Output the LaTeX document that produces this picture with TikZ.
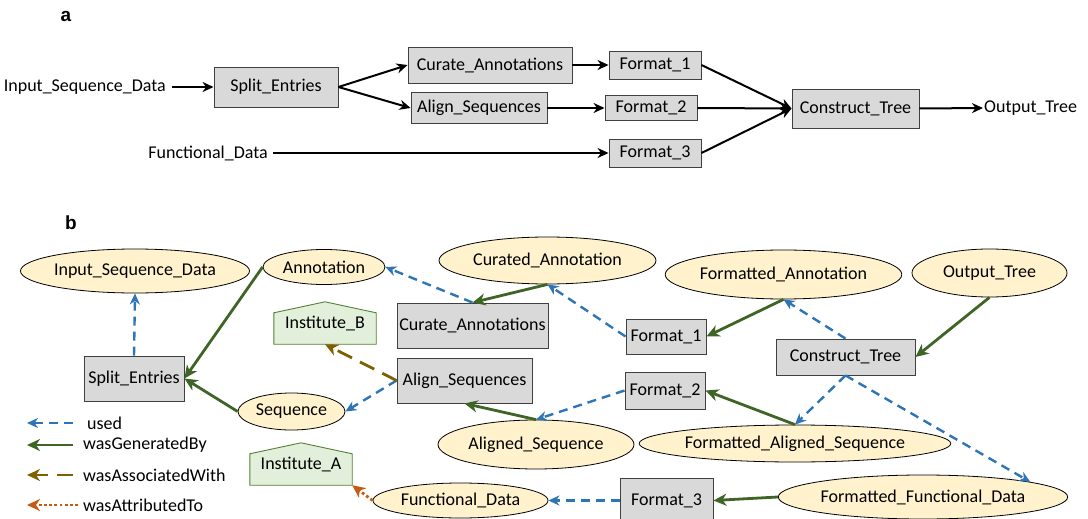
\documentclass[tikz,border=0pt]{standalone}
\usepackage{fontspec}
\setmainfont{Carlito}
\newfontfamily\labfont{Liberation Sans}
\usetikzlibrary{arrows.meta,shapes.geometric,calc,backgrounds}
\definecolor{usedc}{HTML}{2E75B6}
\definecolor{genc}{HTML}{3F6526}
\definecolor{assocc}{HTML}{7F6000}
\definecolor{attrc}{HTML}{C55A11}
\definecolor{ellfill}{HTML}{FFF2CC}
\definecolor{boxfill}{HTML}{D9D9D9}
\definecolor{boxline}{HTML}{404040}
\definecolor{housefill}{HTML}{E2EFDA}
\definecolor{houseline}{HTML}{538135}
\begin{document}
\begin{tikzpicture}[x=1pt,y=-1pt,
  font=\fontsize{18}{21}\selectfont,
  box/.style={rectangle, draw=boxline, fill=boxfill, line width=0.9pt, inner sep=0pt},
  ell/.style={ellipse, draw=black, fill=ellfill, line width=0.8pt, inner sep=0pt},
  plain/.style={inner sep=0pt},
  house/.style={inner sep=0pt, minimum width=102pt, minimum height=42pt},
  tipa/.style={-{Stealth[length=11pt,width=10pt,inset=3.5pt]}},
  aarr/.style={tipa, line width=2pt, black},
  used/.style={-{Stealth[length=11pt,width=10pt,inset=3.5pt]}, usedc, line width=2.4pt, dash pattern=on 9pt off 6pt},
  gen/.style={-{Stealth[length=13pt,width=12pt,inset=4pt]}, genc, line width=2.8pt},
  assoc/.style={-{Stealth[length=13pt,width=12pt,inset=4pt]}, assocc, line width=2.8pt, dash pattern=on 16pt off 9pt},
  attr/.style={-{Stealth[length=13pt,width=12pt,inset=4pt]}, attrc, line width=2.8pt, dash pattern=on 2.8pt off 2.4pt},
  panel/.style={font=\labfont\bfseries\fontsize{19}{22}\selectfont, inner sep=0pt}
]
\useasboundingbox (0,0) rectangle (1088,519);

% ---------------- panel a ----------------
\node[panel] (labA) at (66,16) {a};
\node[plain, anchor=east] (inA) at (166,87) {Input\_Sequence\_Data};
\node[box, minimum width=124pt, minimum height=40pt] (splitA) at (276,87) {Split\_Entries};
\node[plain, anchor=east] (funcA) at (268,153) {Functional\_Data};
\node[box, minimum width=164pt, minimum height=36pt] (curA) at (490,65) {Curate\_Annotations};
\node[box, minimum width=92pt, minimum height=28pt] (fmt1A) at (655,65) {Format\_1};
\node[box, minimum width=136pt, minimum height=31pt] (alignA) at (479,108) {Align\_Sequences};
\node[box, minimum width=92pt, minimum height=25pt] (fmt2A) at (651,108) {Format\_2};
\node[box, minimum width=92pt, minimum height=28pt] (fmt3A) at (655,153) {Format\_3};
\node[box, minimum width=127pt, minimum height=39pt] (consA) at (855.5,108.5) {Construct\_Tree};
\node[plain, anchor=west] (outA) at (984,108) {Output\_Tree};

\draw[aarr, shorten <=6pt] (inA.east) -- (splitA.west);
\draw[aarr] (splitA.east) -- (curA.west);
\draw[aarr] (splitA.east) -- (alignA.west);
\draw[aarr] (curA.east) -- (fmt1A.west);
\draw[aarr] (alignA.east) -- (fmt2A.west);
\draw[aarr, shorten <=5pt] (funcA.east) -- (fmt3A.west);
\draw[aarr] (fmt1A.east) -- (consA.west);
\draw[aarr] (fmt2A.east) -- (consA.west);
\draw[aarr] (fmt3A.east) -- (consA.west);
\draw[aarr, shorten >=1pt] (consA.east) -- (outA.west);

% ---------------- panel b ----------------
\node[panel] (labB) at (71,223) {b};
\node[ell, minimum width=224pt, minimum height=44pt] (isd) at (135,271) {Input\_Sequence\_Data};
\node[ell, minimum width=122pt, minimum height=35pt] (ann) at (324,267) {Annotation};
\node[house] (instB) at (325,323) {Institute\_B};
\node[box, minimum width=100pt, minimum height=45pt] (splitB) at (134,378.5) {Split\_Entries};
\node[ell, minimum width=107pt, minimum height=37pt] (seq) at (291.5,411.5) {Sequence};
\node[ell, minimum width=217pt, minimum height=47pt] (cura) at (547.5,260.5) {Curated\_Annotation};
\node[box, minimum width=151pt, minimum height=45pt] (curB) at (472.5,325.5) {Curate\_Annotations};
\node[box, minimum width=135pt, minimum height=45pt] (alignB) at (464.5,380.5) {Align\_Sequences};
\node[box, minimum width=80pt, minimum height=35pt] (fmt1B) at (666,336.5) {Format\_1};
\node[box, minimum width=80pt, minimum height=37pt] (fmt2B) at (665,390.5) {Format\_2};
\node[ell, minimum width=231pt, minimum height=49pt] (fann) at (783.5,274.5) {Formatted\_Annotation};
\node[ell, minimum width=155pt, minimum height=48pt] (outT) at (989.5,273) {Output\_Tree};
\node[box, minimum width=139pt, minimum height=36pt] (consB) at (845.5,357) {Construct\_Tree};
\node[ell, minimum width=300pt, minimum height=37pt] (fas) at (795,443.5) {Formatted\_Aligned\_Sequence};
\node[ell, minimum width=196pt, minimum height=49pt] (als) at (536,444.5) {Aligned\_Sequence};
\node[ell, minimum width=175pt, minimum height=35pt] (fd) at (460.5,500.5) {Functional\_Data};
\node[box, minimum width=93pt, minimum height=44pt] (fmt3B) at (666.5,500.5) {Format\_3};
\node[ell, minimum width=288pt, minimum height=44pt] (ffd) at (923,497) {Formatted\_Functional\_Data};
\node[house] (instA) at (301,464) {Institute\_A};

\begin{scope}[on background layer]
  \foreach \h in {instB,instA}{
    \draw[fill=housefill, draw=houseline, line width=0.9pt]
      (\h.south west) -- (\h.south east) -- ($(\h.north east)+(0,11)$)
      -- (\h.north) -- ($(\h.north west)+(0,11)$) -- cycle;
  }
\end{scope}

\draw[used] (splitB.north) -- (isd.south);
\draw[gen] (ann.west) -- (splitB.east);
\draw[gen] (seq.west) -- (splitB.east);
\draw[used] (curB.north) -- (ann.east);
\draw[gen] (cura.south) -- (curB.north);
\draw[used] (fmt1B.west) -- (cura.south);
\draw[gen] (fann.south) -- (fmt1B.east);
\draw[used] (consB.north) -- (fann.south);
\draw[gen] (outT.south) -- (consB.east);
\draw[used] (consB.south) -- (fas.north);
\draw[used] (consB.south) -- (ffd.8);
\draw[gen] (fas.north) -- (fmt2B.east);
\draw[used] (fmt2B.west) -- (als.north);
\draw[gen] (als.north) -- (alignB.south);
\draw[used] (alignB.west) -- (seq.east);
\draw[assoc] (alignB.west) -- (instB.south);
\draw[used] (fmt3B.west) -- (fd.east);
\draw[gen] (ffd.west) -- (fmt3B.east);
\draw[attr] (fd.west) -- (instA.south east);

% legend
\coordinate (l1s) at (73,423); \coordinate (l1e) at (27,423);
\coordinate (l2s) at (73,445); \coordinate (l2e) at (27,445);
\coordinate (l3s) at (73,475); \coordinate (l3e) at (27,475);
\coordinate (l4s) at (78,505); \coordinate (l4e) at (27,505);
\draw[used] (l1s) -- (l1e);
\draw[gen] (l2s) -- (l2e);
\draw[assoc] (l3s) -- (l3e);
\draw[attr] (l4s) -- (l4e);
\node[plain, anchor=west] (t1) at (87,423) {used};
\node[plain, anchor=west] (t2) at (83,445) {wasGeneratedBy};
\node[plain, anchor=west] (t3) at (83,475) {wasAssociatedWith};
\node[plain, anchor=west] (t4) at (83,505) {wasAttributedTo};
\end{tikzpicture}
\end{document}
